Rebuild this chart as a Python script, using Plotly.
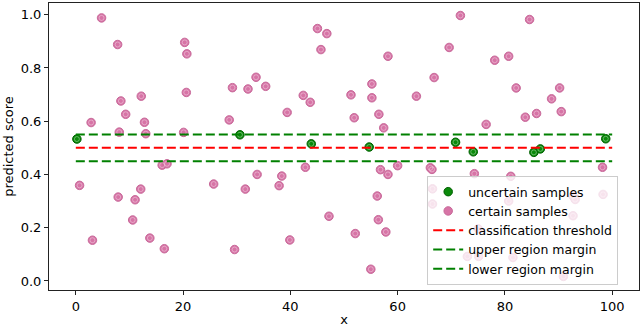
import plotly.graph_objects as go

# certain samples (pink)
certain_x = [0.7, 2.85, 3.1, 4.8, 7.8, 7.9, 8.1, 8.4, 9.3, 10.6, 11.05, 12.1, 12.2, 12.8, 13.05,
             13.8, 16.1, 17.0, 16.5, 20.1, 20.3, 20.6, 20.7, 25.7, 28.6, 29.2, 29.6, 31.6, 32.1,
             33.6, 33.8, 35.4, 37.9, 38.4, 39.4, 39.9, 42.4, 42.8, 43.7, 45.05, 45.7, 46.8, 47.2,
             51.3, 51.9, 52.1, 55.0, 55.2, 55.2, 56.2, 56.4, 56.5, 56.8, 57.4, 57.8, 58.2, 58.2,
             60.0, 63.5, 66.1, 66.4, 66.5, 66.5, 66.8, 69.6, 71.7, 73.0, 74.3, 75.0, 75.1, 76.5,
             78.1, 80.7, 80.7, 81.1, 81.5, 82.1, 83.8, 84.6, 85.9, 88.7, 90.2, 90.5, 90.9, 92.7,
             93.1, 92.7, 98.2, 98.3]
certain_y = [0.359, 0.595, 0.153, 0.988, 0.888, 0.315, 0.559, 0.676, 0.626, 0.229, 0.305, 0.345,
             0.694, 0.596, 0.553, 0.161, 0.435, 0.440, 0.121, 0.558, 0.896, 0.708, 0.853, 0.364,
             0.605, 0.726, 0.118, 0.345, 0.721, 0.765, 0.400, 0.731, 0.358, 0.394, 0.633, 0.154,
             0.697, 0.427, 0.671, 0.948, 0.869, 0.929, 0.243, 0.699, 0.613, 0.178, 0.044, 0.740,
             0.688, 0.319, 0.230, 0.626, 0.418, 0.575, 0.184, 0.844, 0.400, 0.433, 0.694, 0.425,
             0.419, 0.346, 0.289, 0.764, 0.877, 0.997, 0.092, 0.403, 0.196, 0.092, 0.588, 0.829,
             0.844, 0.300, 0.393, 0.088, 0.725, 0.615, 0.982, 0.629, 0.684, 0.725, 0.636, 0.017,
             0.319, 0.306, 0.245, 0.427, 0.325]

# uncertain samples (green)
uncertain_x = [0.2, 30.6, 43.9, 54.7, 70.8, 74.1, 85.4, 86.6, 98.8]
uncertain_y = [0.533, 0.549, 0.515, 0.503, 0.521, 0.485, 0.483, 0.496, 0.534]

threshold = 0.5
upper_margin = 0.55
lower_margin = 0.45
line_x = [0, 100]

x_ticks = [0, 20, 40, 60, 80, 100]
y_ticks = [0.0, 0.2, 0.4, 0.6, 0.8, 1.0]

PINK = "#d774a6"
GREEN = "#0b8a0b"
FONT = "DejaVu Sans"
FS = 13

fig = go.Figure()

fig.add_trace(go.Scatter(
    x=uncertain_x, y=uncertain_y, mode="markers", name="uncertain samples",
    marker=dict(size=8.5, color=GREEN, line=dict(color="#006000", width=1)),
))
fig.add_trace(go.Scatter(
    x=certain_x, y=certain_y, mode="markers", name="certain samples",
    marker=dict(size=8.5, color=PINK, line=dict(color="#c86a9a", width=1)),
))
# subtle inner rings
fig.add_trace(go.Scatter(
    x=uncertain_x, y=uncertain_y, mode="markers", showlegend=False, hoverinfo="skip",
    marker=dict(size=5, symbol="circle-open", color="rgba(255,255,255,0.35)", line=dict(width=1)),
))
fig.add_trace(go.Scatter(
    x=certain_x, y=certain_y, mode="markers", showlegend=False, hoverinfo="skip",
    marker=dict(size=5, symbol="circle-open", color="rgba(255,255,255,0.35)", line=dict(width=1)),
))

fig.add_trace(go.Scatter(
    x=line_x, y=[threshold, threshold], mode="lines", name="classification threshold",
    line=dict(color="#ff0000", width=2, dash="9px,4px"),
))
fig.add_trace(go.Scatter(
    x=line_x, y=[upper_margin, upper_margin], mode="lines", name="upper region margin",
    line=dict(color="#008000", width=2, dash="9px,4px"),
))
fig.add_trace(go.Scatter(
    x=line_x, y=[lower_margin, lower_margin], mode="lines", name="lower region margin",
    line=dict(color="#008000", width=2, dash="9px,4px"),
))

axis_common = dict(
    showline=True, linecolor="#222222", linewidth=1, mirror=True,
    ticks="outside", ticklen=4, tickcolor="#222222", tickwidth=1,
    showgrid=False, zeroline=False,
    tickfont=dict(family=FONT, size=FS, color="black"),
)

fig.update_xaxes(range=[-5, 105], tickvals=x_ticks, ticktext=[str(v) for v in x_ticks],
                 title=dict(text="x", font=dict(family=FONT, size=FS, color="black"), standoff=2),
                 **axis_common)
fig.update_yaxes(range=[-0.034, 1.044], tickvals=y_ticks, ticktext=[f"{v:.1f}" for v in y_ticks],
                 title=dict(text="predicted score", font=dict(family=FONT, size=FS, color="black"),
                            standoff=4),
                 **axis_common)

fig.update_layout(
    width=640, height=327,
    margin=dict(l=49, r=1, t=3, b=37, autoexpand=False),
    paper_bgcolor="white", plot_bgcolor="white",
    font=dict(family=FONT, size=FS, color="black"),
    legend=dict(
        x=0.641, y=0.397, xanchor="left", yanchor="top",
        bgcolor="rgba(255,255,255,0.8)", bordercolor="#cccccc", borderwidth=1,
        font=dict(family=FONT, size=12.5, color="black"),
        tracegroupgap=0, itemwidth=30,
    ),
    showlegend=True,
)

fig.write_html("out.html", config={"displayModeBar": False},
               post_script="document.body.style.margin='0px';")
